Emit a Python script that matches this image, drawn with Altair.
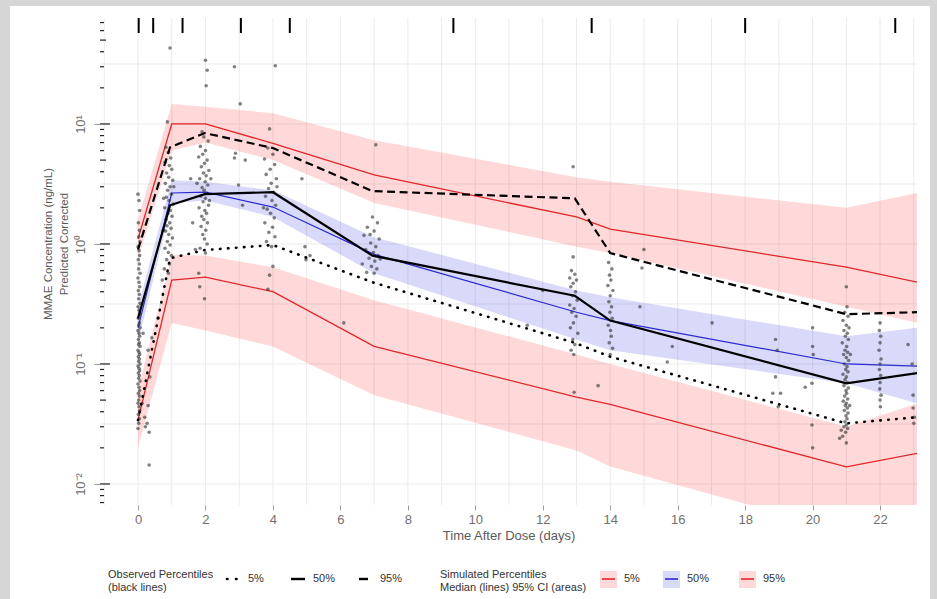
import altair as alt
import pandas as pd

FONT = "Liberation Sans"
W, H = 817, 487
X_DOMAIN = [-1.127, 23.095]
Y_DOMAIN = [0.00668, 76.4]

# ---- simulated percentiles (median line + 95% CI band) per time bin ----
sim_time = [0.0, 1.0, 2.0, 4.0, 7.0, 13.0, 14.0, 21.0, 23.1]
sim_p05 = [0.034, 0.50, 0.53, 0.40, 0.14, 0.053, 0.046, 0.0139, 0.018]
sim_p05_lo = [0.020, 0.22, 0.19, 0.14, 0.055, 0.019, 0.014, 0.004, 0.004]
sim_p05_hi = [0.060, 0.81, 0.80, 0.64, 0.34, 0.12, 0.10, 0.030, 0.047]
sim_p50 = [0.20, 2.66, 2.70, 2.03, 0.82, 0.27, 0.23, 0.10, 0.096]
sim_p50_lo = [0.15, 2.2, 2.3, 1.68, 0.57, 0.16, 0.13, 0.069, 0.047]
sim_p50_hi = [0.30, 3.4, 3.3, 2.8, 1.14, 0.41, 0.36, 0.17, 0.20]
sim_p95 = [1.1, 10.0, 10.0, 6.9, 3.76, 1.68, 1.33, 0.64, 0.48]
sim_p95_lo = [0.75, 6.0, 7.0, 5.0, 2.2, 0.95, 0.84, 0.30, 0.22]
sim_p95_hi = [1.6, 14.7, 13.9, 12.3, 7.3, 3.6, 3.3, 2.0, 2.66]

# ---- observed percentiles ----
obs_time = [0.0, 0.95, 1.98, 4.0, 6.95, 12.95, 14.0, 21.0, 23.1]
obs_p05 = [0.034, 0.76, 0.89, 0.98, 0.48, 0.15, 0.115, 0.032, 0.036]
obs_p50 = [0.24, 2.1, 2.6, 2.7, 0.80, 0.37, 0.23, 0.069, 0.084]
obs_p95 = [0.90, 6.4, 8.4, 6.3, 2.76, 2.4, 0.84, 0.26, 0.27]

# ---- observed concentrations (time, conc) ----
obs_day0 = [(0.00, 2.6), (0.03, 2.3), (0.05, 1.9), (0.01, 1.5), (0.04, 1.3), (0.02, 1.15), (0.06, 1.05),
            (0.00, 0.95), (0.03, 0.88), (0.05, 0.8), (0.01, 0.74), (0.04, 0.68), (0.02, 0.62), (0.06, 0.57),
            (0.00, 0.52), (0.03, 0.48), (0.05, 0.44), (0.01, 0.41), (0.04, 0.38), (0.02, 0.35), (0.06, 0.32),
            (0.00, 0.30), (0.03, 0.28), (0.05, 0.26), (0.01, 0.24), (0.04, 0.22), (0.02, 0.21), (0.06, 0.20),
            (0.00, 0.19), (0.03, 0.18), (0.05, 0.17), (0.01, 0.16), (0.04, 0.15), (0.02, 0.145), (0.06, 0.14),
            (0.00, 0.13), (0.03, 0.125), (0.05, 0.12), (0.01, 0.115), (0.04, 0.11), (0.02, 0.105), (0.06, 0.10),
            (0.00, 0.096), (0.03, 0.092), (0.05, 0.088), (0.01, 0.084), (0.04, 0.08), (0.02, 0.076), (0.06, 0.072),
            (0.00, 0.068), (0.03, 0.064), (0.05, 0.06), (0.01, 0.057), (0.04, 0.054), (0.02, 0.05), (0.00, 0.047),
            (0.03, 0.044), (0.05, 0.041), (0.01, 0.038), (0.04, 0.035), (0.02, 0.032), (0.00, 0.029)]
obs_early = [(0.15, 0.18), (0.41, 0.165), (0.30, 0.13), (0.35, 0.078), (0.12, 0.047), (0.30, 0.045),
             (0.20, 0.036), (0.27, 0.032), (0.22, 0.030), (0.33, 0.027), (0.33, 0.0144), (0.59, 0.24)]
obs_day1 = [(0.95, 43), (0.87, 10.4), (0.83, 6.4), (0.90, 5.8), (0.97, 5.2), (0.80, 4.8), (0.93, 4.5),
            (1.00, 4.2), (0.85, 3.9), (0.91, 3.6), (1.03, 3.4), (0.81, 3.2), (0.95, 3.0), (0.88, 2.8),
            (0.99, 2.6), (0.84, 2.45), (0.92, 2.3), (1.05, 2.15), (0.79, 2.0), (0.96, 1.9), (0.89, 1.8),
            (1.01, 1.7), (0.83, 1.6), (0.94, 1.5), (0.86, 1.42), (0.98, 1.35), (0.82, 1.28), (0.91, 1.2),
            (1.02, 1.12), (0.87, 1.05), (0.95, 0.98), (0.80, 0.92), (0.90, 0.85), (0.99, 0.8), (0.85, 0.74),
            (0.90, 0.57), (0.72, 0.5), (0.93, 0.68), (0.75, 1.3), (0.76, 2.4), (1.06, 3.0), (0.78, 0.62)]
obs_day2 = [(2.00, 34), (2.05, 28), (2.02, 20.8), (1.90, 8.6), (1.95, 7.8), (2.08, 7.2), (1.85, 6.5),
            (2.00, 6.0), (1.92, 5.6), (1.80, 5.3), (2.05, 5.0), (1.97, 4.7), (1.88, 4.4), (2.10, 4.1),
            (1.94, 3.9), (2.02, 3.7), (1.83, 3.5), (1.99, 3.3), (2.07, 3.1), (1.90, 2.95), (1.96, 2.8),
            (2.04, 2.65), (1.86, 2.5), (2.00, 2.4), (1.93, 2.25), (2.09, 2.1), (1.81, 2.0), (1.98, 1.9),
            (2.03, 1.8), (1.89, 1.7), (1.95, 1.6), (2.06, 1.5), (1.87, 1.4), (2.01, 1.3), (1.92, 1.2),
            (1.97, 1.1), (2.05, 1.0), (1.84, 0.92), (2.00, 0.84), (1.80, 0.57), (1.83, 0.44), (1.97, 0.35),
            (1.70, 0.9), (2.12, 2.3), (1.75, 3.2)]
obs_day3 = [(2.86, 30), (3.03, 14.7), (2.89, 5.7), (2.86, 5.2), (3.18, 5.0), (2.98, 3.1), (3.10, 2.1),
            (1.56, 3.5), (1.62, 1.5), (2.16, 3.5)]
obs_day4 = [(4.07, 30.6), (3.90, 9.1), (3.85, 6.3), (4.00, 5.6), (3.75, 5.1), (4.05, 4.6), (3.92, 4.2),
            (3.80, 3.8), (4.10, 3.5), (3.95, 3.2), (3.87, 2.9), (4.02, 2.7), (3.78, 2.5), (3.97, 2.3),
            (4.08, 2.1), (3.83, 1.95), (3.93, 1.8), (4.04, 1.65), (3.76, 1.5), (3.99, 1.38), (3.88, 1.25),
            (4.06, 1.15), (3.81, 1.05), (3.96, 0.95), (4.00, 0.65), (3.90, 0.55), (3.85, 0.42), (4.12, 3.0),
            (3.72, 2.0), (4.86, 3.5), (4.95, 0.95), (5.10, 0.8), (4.98, 0.74), (6.10, 0.22)]
obs_day7 = [(7.05, 6.7), (6.95, 1.68), (7.10, 1.5), (6.80, 1.38), (7.00, 1.28), (6.70, 1.18), (7.15, 1.1),
            (6.90, 1.02), (7.05, 0.95), (6.75, 0.9), (6.98, 0.85), (7.12, 0.8), (6.85, 0.76), (7.02, 0.72),
            (6.65, 0.68), (6.92, 0.65), (7.08, 0.62), (6.78, 0.58), (7.00, 0.57), (7.18, 0.75), (6.88, 1.2),
            (11.54, 0.21), (12.00, 0.41)]
obs_day13 = [(12.90, 4.4), (12.90, 0.78), (12.85, 0.6), (12.95, 0.56), (12.80, 0.52), (13.00, 0.5),
             (12.90, 0.47), (12.83, 0.44), (12.97, 0.4), (12.88, 0.37), (13.02, 0.34), (12.80, 0.31),
             (12.93, 0.29), (12.86, 0.27), (12.99, 0.25), (12.91, 0.22), (12.82, 0.2), (13.04, 0.18),
             (12.89, 0.16), (12.95, 0.145), (12.84, 0.13), (12.92, 0.12), (12.93, 0.058), (13.64, 0.066)]
obs_day14 = [(13.95, 0.7), (14.05, 0.62), (13.98, 0.55), (14.02, 0.5), (13.93, 0.45), (14.08, 0.41),
             (14.00, 0.37), (13.96, 0.33), (14.04, 0.3), (13.99, 0.27), (14.06, 0.24), (13.94, 0.21),
             (14.01, 0.19), (14.03, 0.17), (13.97, 0.15), (14.07, 0.135), (14.00, 0.12), (15.00, 0.9),
             (14.94, 0.63), (14.88, 0.3), (15.69, 0.104), (15.84, 0.14), (17.02, 0.22)]
obs_day19 = [(18.90, 0.16), (18.95, 0.13), (18.90, 0.078), (18.82, 0.057), (19.05, 0.057), (18.98, 0.044),
             (20.00, 0.2), (20.00, 0.14), (20.02, 0.12), (19.78, 0.064), (19.98, 0.069), (19.98, 0.031),
             (20.00, 0.02)]
obs_day21 = [(21.00, 0.44), (21.02, 0.3), (20.95, 0.27), (21.05, 0.25), (20.90, 0.23), (21.00, 0.21),
             (21.08, 0.2), (20.93, 0.19), (21.03, 0.18), (20.97, 0.17), (21.06, 0.16), (20.88, 0.15),
             (21.01, 0.14), (20.96, 0.13), (21.04, 0.125), (20.92, 0.12), (21.00, 0.113), (21.07, 0.107),
             (20.94, 0.1), (21.02, 0.095), (20.98, 0.09), (21.05, 0.086), (20.90, 0.082), (21.00, 0.078),
             (20.96, 0.074), (21.03, 0.07), (20.93, 0.066), (21.06, 0.063), (20.99, 0.06), (21.01, 0.057),
             (20.95, 0.054), (21.04, 0.051), (20.91, 0.049), (21.00, 0.047), (20.97, 0.045), (21.03, 0.043),
             (20.94, 0.041), (21.05, 0.039), (20.99, 0.037), (21.02, 0.035), (20.96, 0.033), (21.00, 0.031),
             (20.93, 0.03), (21.04, 0.029), (20.98, 0.027), (20.89, 0.025), (20.80, 0.024), (21.00, 0.022),
             (20.85, 0.028), (21.10, 0.045), (21.12, 0.12)]
obs_day22 = [(22.00, 0.22), (21.98, 0.19), (22.02, 0.17), (22.00, 0.15), (21.97, 0.13), (22.03, 0.11),
             (22.00, 0.1), (21.98, 0.09), (22.02, 0.08), (22.00, 0.07), (21.99, 0.062), (22.03, 0.055),
             (22.00, 0.05), (22.01, 0.044), (22.83, 0.145), (22.98, 0.055), (22.98, 0.043), (23.00, 0.032),
             (23.02, 0.036), (22.95, 0.1)]

# bin boundaries shown as a rug along the top
bin_edges = [0.02, 0.45, 1.32, 3.05, 4.5, 9.35, 13.45, 18.0, 22.45]

# axis / grid values
x_ticks = [0, 2, 4, 6, 8, 10, 12, 14, 16, 18, 20, 22]
x_grid = [-1, 0, 1, 2, 3, 4, 5, 6, 7, 8, 9, 10, 11, 12, 13, 14, 15, 16, 17, 18, 19, 20, 21, 22, 23]
y_ticks = [0.01, 0.1, 1, 10]
y_grid = [0.01, 0.0316, 0.1, 0.316, 1, 3.16, 10, 31.6]
log_major = [0.01, 0.1, 1, 10]
log_mid = [0.005, 0.05, 0.5, 5, 50]
log_minor = [0.007, 0.008, 0.009, 0.02, 0.03, 0.04, 0.06, 0.07, 0.08, 0.09,
             0.2, 0.3, 0.4, 0.6, 0.7, 0.8, 0.9, 2, 3, 4, 6, 7, 8, 9, 20, 30, 40, 60, 70]

sim_df = pd.DataFrame({
    "time": sim_time,
    "p05": sim_p05, "p05_lo": sim_p05_lo, "p05_hi": sim_p05_hi,
    "p50": sim_p50, "p50_lo": sim_p50_lo, "p50_hi": sim_p50_hi,
    "p95": sim_p95, "p95_lo": sim_p95_lo, "p95_hi": sim_p95_hi,
})
obs_df = pd.DataFrame({"time": obs_time, "p05": obs_p05, "p50": obs_p50, "p95": obs_p95})
points = obs_day0 + obs_early + obs_day1 + obs_day2 + obs_day3 + obs_day4 + obs_day7 + \
    obs_day13 + obs_day14 + obs_day19 + obs_day21 + obs_day22
pts_df = pd.DataFrame(points, columns=["time", "conc"])

TICK_GREY = "#9a9a9a"
LABEL_GREY = "#707070"
TITLE_GREY = "#5a5a5a"

x_axis = alt.Axis(values=x_ticks, grid=False, domain=False, tickColor=TICK_GREY, tickSize=5, zindex=1,
                  labelFont=FONT, labelFontSize=13, labelColor=LABEL_GREY, labelPadding=3,
                  titleFont=FONT, titleFontSize=13, titleColor=TITLE_GREY, titleFontWeight="normal",
                  titlePadding=3)
y_axis = alt.Axis(values=y_ticks, grid=False, domain=False, tickColor=TICK_GREY, tickSize=6, zindex=1,
                  labelExpr="round(log(datum.value)/LN10) == 1 ? '10¹' : round(log(datum.value)/LN10) == 0 ? '10⁰' : round(log(datum.value)/LN10) == -1 ? '10⁻¹' : '10⁻²'",
                  labelAngle=270, labelAlign="center", labelBaseline="bottom", labelPadding=7,
                  labelFont=FONT, labelFontSize=13, labelColor=LABEL_GREY)
X_TITLE = "Time After Dose (days)"


def xenc(field):
    return alt.X(f"{field}:Q", scale=alt.Scale(domain=X_DOMAIN, nice=False, zero=False),
                 axis=x_axis, title=X_TITLE)


def yenc(field):
    return alt.Y(f"{field}:Q", scale=alt.Scale(type="log", domain=Y_DOMAIN, nice=False),
                 axis=y_axis, title="")


one_row = alt.Data(values=[{"k": 0}])

# white page behind the figure
frame = alt.Chart(one_row).mark_rect(color="white").encode(
    x=alt.value(-90), x2=alt.value(830), y=alt.value(-12), y2=alt.value(581))

vgrid = alt.Chart(pd.DataFrame({"d": x_grid})).mark_rule(color="#ebebeb", strokeWidth=1).encode(
    x=xenc("d"), y=alt.value(0), y2=alt.value(H))
hgrid = alt.Chart(pd.DataFrame({"v": y_grid})).mark_rule(color="#ebebeb", strokeWidth=1).encode(
    y=yenc("v"), x=alt.value(0), x2=alt.value(W))

sim = alt.Chart(sim_df)
band05 = sim.mark_area(color="#ff0000", opacity=0.15, clip=True).encode(
    x=xenc("time"), y=yenc("p05_lo"), y2="p05_hi:Q")
band95 = sim.mark_area(color="#ff0000", opacity=0.15, clip=True).encode(
    x=xenc("time"), y=yenc("p95_lo"), y2="p95_hi:Q")
band50 = sim.mark_area(color="#4040e0", opacity=0.2, clip=True).encode(
    x=xenc("time"), y=yenc("p50_lo"), y2="p50_hi:Q")
line05 = sim.mark_line(color="#e0262b", strokeWidth=1.3, clip=True).encode(x=xenc("time"), y=yenc("p05"))
line95 = sim.mark_line(color="#e0262b", strokeWidth=1.3, clip=True).encode(x=xenc("time"), y=yenc("p95"))
line50 = sim.mark_line(color="#2b2bd0", strokeWidth=1.2, clip=True).encode(x=xenc("time"), y=yenc("p50"))

dots = alt.Chart(pts_df).mark_circle(color="#2e2e2e", opacity=0.6, size=13, clip=True).encode(
    x=xenc("time"), y=yenc("conc"))

obs = alt.Chart(obs_df)
o05 = obs.mark_line(color="black", strokeWidth=2.6, strokeDash=[0.5, 7.5], strokeCap="round", clip=True).encode(
    x=xenc("time"), y=yenc("p05"))
o50 = obs.mark_line(color="black", strokeWidth=2.2, clip=True).encode(x=xenc("time"), y=yenc("p50"))
o95 = obs.mark_line(color="black", strokeWidth=2.2, strokeDash=[8, 4.5], clip=True).encode(
    x=xenc("time"), y=yenc("p95"))

# log ticks drawn inside the left edge of the panel
lt_major = alt.Chart(pd.DataFrame({"v": log_major})).mark_rule(color="#222", strokeWidth=1.2).encode(
    y=yenc("v"), x=alt.value(0), x2=alt.value(10))
lt_mid = alt.Chart(pd.DataFrame({"v": log_mid})).mark_rule(color="#222", strokeWidth=1.2, clip=True).encode(
    y=yenc("v"), x=alt.value(0), x2=alt.value(6))
lt_minor = alt.Chart(pd.DataFrame({"v": log_minor})).mark_rule(color="#222", strokeWidth=1.2, clip=True).encode(
    y=yenc("v"), x=alt.value(0), x2=alt.value(4))

rug = alt.Chart(pd.DataFrame({"b": bin_edges})).mark_rule(color="black", strokeWidth=2).encode(
    x=xenc("b"), y=alt.value(0), y2=alt.value(15))


# ---- text helpers ----
def text(label, x, y, size=11, color="#333333", angle=0, align="left"):
    return alt.Chart(one_row).mark_text(text=label, align=align, baseline="middle", font=FONT,
                                        fontSize=size, color=color, angle=angle).encode(
        x=alt.value(x), y=alt.value(y))


# two-line y-axis title
y_title = [
    text("MMAE Concentration (ng/mL)", -51, 226, size=11.5, color=TITLE_GREY, angle=270, align="center"),
    text("Predicted Corrected", -35, 226, size=11.5, color=TITLE_GREY, angle=270, align="center"),
]


def key_line(x1, x2, y, color="black", width=2.2, dash=None, cap="butt"):
    kw = dict(color=color, strokeWidth=width, strokeCap=cap)
    if dash:
        kw["strokeDash"] = dash
    return alt.Chart(one_row).mark_rule(**kw).encode(x=alt.value(x1), x2=alt.value(x2), y=alt.value(y))


def key_box(x1, x2, y1, y2, color, opacity):
    return alt.Chart(one_row).mark_rect(color=color, opacity=opacity).encode(
        x=alt.value(x1), x2=alt.value(x2), y=alt.value(y1), y2=alt.value(y2))


LY = 563  # legend title block centre, relative to the panel top
KY = LY - 2  # legend keys
legend = [
    text("Observed Percentiles", 8, LY - 6),
    text("(black lines)", 8, LY + 7),
    key_line(127, 141, KY, width=2.6, dash=[0.5, 8.5], cap="round"),
    text("5%", 148, KY),
    key_line(191, 205, KY, width=2.4),
    text("50%", 213, KY),
    key_line(259, 268, KY, width=2.4),
    text("95%", 280, KY),
    text("Simulated Percentiles", 340, LY - 6),
    text("Median (lines) 95% CI (areas)", 340, LY + 7),
    key_box(500, 517, KY - 8, KY + 9, "#ff0000", 0.15),
    key_line(502, 515, KY, color="#e0262b", width=1.6),
    text("5%", 524, KY),
    key_box(563, 580, KY - 8, KY + 9, "#4040e0", 0.2),
    key_line(565, 578, KY, color="#2b2bd0", width=1.6),
    text("50%", 587, KY),
    key_box(639, 656, KY - 8, KY + 9, "#ff0000", 0.15),
    key_line(641, 654, KY, color="#e0262b", width=1.6),
    text("95%", 663, KY),
]

chart = alt.layer(
    frame, vgrid, hgrid, band05, band95, band50, line05, line95, line50, dots,
    o05, o50, o95, lt_major, lt_mid, lt_minor, rug, *y_title, *legend
).properties(
    width=W, height=H,
    autosize=alt.AutoSizeParams(type="none"),
    padding={"left": 100, "top": 18, "right": 20, "bottom": 94},
).configure(
    background="#d6d6d6",
).configure_view(
    stroke="#dedede", strokeWidth=1,
)

chart.save("out.html", embed_options={"renderer": "svg", "actions": False})
